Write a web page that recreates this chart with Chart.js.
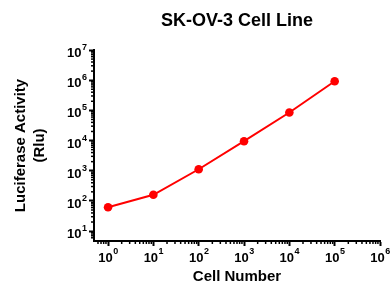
<!DOCTYPE html>
<html><head><meta charset="utf-8">
<title>SK-OV-3 Cell Line</title>
<script src="https://cdn.jsdelivr.net/npm/chart.js@4.4.0/dist/chart.umd.min.js"></script>
<style>
  html, body { margin: 0; padding: 0; background: #fff; }
  #wrap { width: 392px; height: 282px; }
</style>
</head>
<body>
<div id="wrap"><canvas id="c"></canvas></div>
<script>
// データ
const cellNumbers = [1, 10, 100, 1000, 10000, 100000];
const luciferase = [62, 160, 1120, 9500, 85000, 920000];
const xExponents = [0, 1, 2, 3, 4, 5, 6];
const yExponents = [1, 2, 3, 4, 5, 6, 7];

const FONT = 'Arial, "Liberation Sans", sans-serif';

// 10のべき乗ラベルと補助目盛りを描くプラグイン
const logAxisDecor = {
  id: 'logAxisDecor',
  afterDraw(chart) {
    const ctx = chart.ctx;
    const xs = chart.scales.x, ys = chart.scales.y;
    const area = chart.chartArea;
    ctx.save();
    ctx.strokeStyle = '#000';
    ctx.fillStyle = '#000';
    ctx.lineWidth = 1.5;

    // 補助目盛り
    for (let e = -1; e <= 6; e++) {
      for (let m = 2; m <= 9; m++) {
        const v = m * Math.pow(10, e);
        const px = xs.getPixelForValue(v);
        if (px > area.left + 1 && px < area.right) {
          ctx.beginPath(); ctx.moveTo(px, area.bottom); ctx.lineTo(px, area.bottom + 3); ctx.stroke();
        }
        const py = ys.getPixelForValue(v);
        if (py < area.bottom - 1 && py > area.top) {
          ctx.beginPath(); ctx.moveTo(area.left, py); ctx.lineTo(area.left - 3, py); ctx.stroke();
        }
      }
    }

    // ラベル
    const big = 'bold 13px ' + FONT, small = 'bold 9px ' + FONT;
    ctx.textBaseline = 'alphabetic';
    xExponents.forEach(e => {
      const px = xs.getPixelForValue(Math.pow(10, e));
      ctx.font = big; const w1 = ctx.measureText('10').width;
      ctx.font = small; const w2 = ctx.measureText(String(e)).width;
      const x0 = px - (w1 + w2) / 2;
      ctx.font = big; ctx.textAlign = 'left'; ctx.fillText('10', x0, area.bottom + 21);
      ctx.font = small; ctx.fillText(String(e), x0 + w1 + 0.5, area.bottom + 13);
    });
    yExponents.forEach(e => {
      const py = ys.getPixelForValue(Math.pow(10, e));
      ctx.font = small; const w2 = ctx.measureText(String(e)).width;
      const xr = area.left - 7;
      ctx.textAlign = 'right';
      ctx.fillText(String(e), xr, py + 0);
      ctx.font = big; ctx.fillText('10', xr - w2 - 0.5, py + 7);
    });
    ctx.restore();
  }
};

new Chart(document.getElementById('c'), {
  type: 'line',
  data: {
    datasets: [{
      data: cellNumbers.map((x, i) => ({ x: x, y: luciferase[i] })),
      borderColor: '#ff0000',
      backgroundColor: '#ff0000',
      borderWidth: 2,
      pointRadius: 4.3,
      pointBorderWidth: 0,
      tension: 0,
    }]
  },
  options: {
    responsive: true,
    maintainAspectRatio: false,
    animation: false,
    layout: { padding: { left: 0, right: 12, top: 0, bottom: 0 } },
    plugins: {
      legend: { display: false },
      tooltip: { enabled: false },
      title: {
        display: true,
        text: 'SK-OV-3 Cell Line',
        color: '#000',
        fullSize: false,
        font: { family: FONT, size: 18, weight: 'bold', lineHeight: 1.2 },
        padding: { top: 10, bottom: 18.4 }
      }
    },
    scales: {
      x: {
        type: 'logarithmic',
        min: 0.49, max: 1000000,
        afterBuildTicks: s => { s.ticks = xExponents.map(e => ({ value: Math.pow(10, e) })); },
        afterFit: s => { s.height = 41; },
        border: { display: true, color: '#000', width: 2 },
        grid: { drawOnChartArea: false, drawTicks: true, tickLength: 5, tickWidth: 2, tickColor: '#000' },
        ticks: { display: false },
        title: {
          display: true, text: 'Cell Number', color: '#000',
          font: { family: FONT, size: 15, weight: 'bold', lineHeight: 1 },
          padding: { top: 0, bottom: -2 }
        }
      },
      y: {
        type: 'logarithmic',
        min: 4.7, max: 10000000,
        afterBuildTicks: s => { s.ticks = yExponents.map(e => ({ value: Math.pow(10, e) })); },
        afterFit: s => { s.width = 94; },
        border: { display: true, color: '#000', width: 2 },
        grid: { drawOnChartArea: false, drawTicks: true, tickLength: 5, tickWidth: 2, tickColor: '#000' },
        ticks: { display: false },
        title: {
          display: true, text: ['Luciferase Activity', '(Rlu)'], color: '#000',
          font: { family: FONT, size: 15, weight: 'bold', lineHeight: 1.233 },
          padding: { top: 11.75, bottom: 0 }
        }
      }
    }
  },
  plugins: [logAxisDecor]
});
</script>
</body></html>
